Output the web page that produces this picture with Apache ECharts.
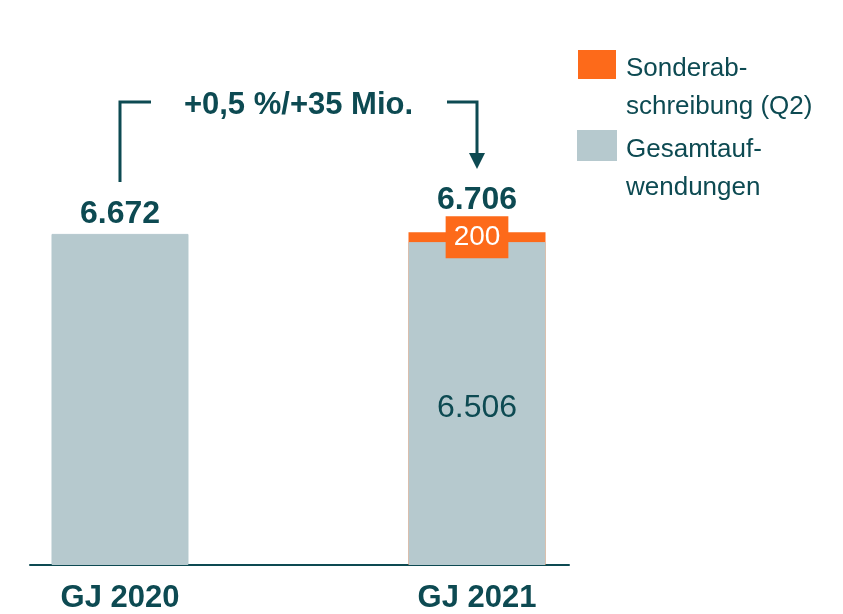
<!DOCTYPE html>
<html>
<head>
    <meta charset="utf-8">
    <title>Gesamtaufwendungen</title>
    <style type="text/css">
        html, body {
            width: 100%;
            height: 100%;
            margin: 0;
            padding: 0;
            background: #fff;
        }
        #main {
            width: 843px;
            height: 614px;
        }
    </style>
    <script src="https://cdn.jsdelivr.net/npm/echarts@6/dist/echarts.min.js"></script>
</head>
<body>
<div id="main"></div>
<script type="text/javascript">
    // Daten
    var categories = ['GJ 2020', 'GJ 2021'];
    var baseValues = [6672, 6506];      // Gesamtaufwendungen
    var specialValues = [0, 200];       // Sonderabschreibung (Q2)
    var seriesNames = ['Sonderabschreibung (Q2)', 'Gesamtaufwendungen'];
    var legendTexts = [['Sonderab-', 'schreibung (Q2)'], ['Gesamtauf-', 'wendungen']];
    var deltaText = '+0,5 %/+35 Mio.';

    var totals = baseValues.map(function (v, i) { return v + specialValues[i]; });

    var dark = '#0d4a52';
    var grey = '#b6c9ce';
    var orange = '#fd6a1a';
    var font = 'Liberation Sans, Arial, sans-serif';

    function fmt(v) {
        // 6672 -> 6.672
        var s = String(v);
        return s.length > 3 ? s.slice(0, s.length - 3) + '.' + s.slice(-3) : s;
    }

    var myChart = echarts.init(document.getElementById('main'));

    // Graue Balken (Gesamtaufwendungen ohne Sonderabschreibung)
    var greyData = baseValues.map(function (v, i) {
        var item = { value: [i, v] };
        if (specialValues[i] > 0) {
            item.label = {
                show: true, position: 'inside', offset: [0, 5],
                fontSize: 32, color: dark, fontFamily: font,
                formatter: function () { return fmt(v); }
            };
        }
        return item;
    });

    // Orange: reicht bis zur Summe, liegt hinter dem grauen Balken,
    // sichtbar bleibt nur der Anteil der Sonderabschreibung
    var orangeData = specialValues.map(function (v, i) {
        if (!(v > 0)) {
            return { value: [i, '-'] };
        }
        return {
            value: [i, totals[i]],
            label: {
                show: true, position: ['50%', 5], align: 'center', verticalAlign: 'middle',
                fontSize: 28, color: '#fff', fontFamily: font,
                backgroundColor: orange, padding: [8, 8, 6, 8],
                formatter: function () { return fmt(v); }
            }
        };
    });

    // Summenbeschriftung
    var totalData = totals.map(function (t, i) {
        return {
            value: [i, t],
            label: {
                show: true, position: 'top',
                distance: specialValues[i] > 0 ? 16 : 4,
                fontSize: 32, fontWeight: 'bold', color: dark, fontFamily: font,
                formatter: function () { return fmt(t); }
            }
        };
    });

    var option = {
        animation: false,
        backgroundColor: '#fff',
        textStyle: { fontFamily: font },
        grid: { left: 30, right: 274, top: 168, bottom: 47 },
        legend: {
            data: seriesNames,
            orient: 'vertical',
            left: 577,
            top: 3.5,
            padding: 0,
            itemGap: -41,
            itemWidth: 38,
            itemHeight: 29,
            icon: 'rect',
            selectedMode: false,
            textStyle: {
                fontSize: 26, color: dark, lineHeight: 38, fontFamily: font,
                rich: {
                    s: { fontSize: 26, lineHeight: 46, color: dark, fontFamily: font },
                    a: { fontSize: 26, lineHeight: 38, color: dark, fontFamily: font, padding: [0, 0, 0, 5] }
                }
            },
            formatter: function (name) {
                var lines = legendTexts[seriesNames.indexOf(name)];
                return '{s| }\n{a|' + lines[0] + '}\n{a|' + lines[1] + '}';
            }
        },
        xAxis: {
            type: 'value',
            min: -0.2521,
            max: 1.2577,
            splitLine: { show: false },
            axisTick: { show: false },
            axisLine: { show: true, lineStyle: { color: dark, width: 2 } },
            axisLabel: {
                customValues: [0, 1],
                margin: 18,
                fontSize: 31, fontWeight: 'bold', color: dark, fontFamily: font,
                formatter: function (v) { return categories[Math.round(v)]; }
            }
        },
        yAxis: {
            type: 'value',
            min: 0,
            max: 8000,
            show: false
        },
        series: [
            {
                name: seriesNames[0],
                type: 'bar',
                barWidth: 137,
                barGap: '-100%',
                itemStyle: { color: orange },
                data: orangeData
            },
            {
                name: seriesNames[1],
                type: 'bar',
                barWidth: 137,
                barGap: '-100%',
                itemStyle: { color: grey, borderColor: grey, borderWidth: 1 },
                data: greyData
            },
            {
                name: 'Summe',
                type: 'bar',
                barWidth: 137,
                barGap: '-100%',
                itemStyle: { color: 'transparent' },
                data: totalData
            }
        ]
    };

    myChart.setOption(option);

    // Klammer mit Pfeil: x aus den Balkenpositionen
    var x1 = myChart.convertToPixel({ gridIndex: 0 }, [0, 0])[0];
    var x2 = myChart.convertToPixel({ gridIndex: 0 }, [1, 0])[0];
    var lineStyle = { stroke: dark, lineWidth: 3 };
    myChart.setOption({
        graphic: [
            { type: 'polyline', shape: { points: [[x1, 182], [x1, 102], [x1 + 31, 102]] }, style: lineStyle },
            { type: 'polyline', shape: { points: [[x2 - 30, 102], [x2, 102], [x2, 156]] }, style: lineStyle },
            { type: 'polygon', shape: { points: [[x2 - 8, 153], [x2 + 8, 153], [x2, 169]] }, style: { fill: dark } },
            {
                type: 'text', x: (x1 + x2) / 2, y: 105,
                style: {
                    text: deltaText, fill: dark, fontSize: 31, fontWeight: 'bold',
                    fontFamily: font, align: 'center', verticalAlign: 'middle'
                }
            }
        ]
    });
</script>
</body>
</html>
